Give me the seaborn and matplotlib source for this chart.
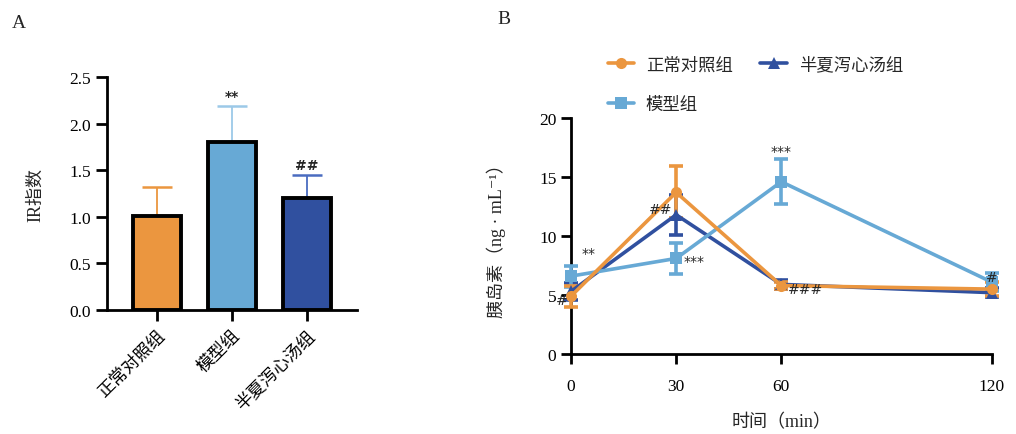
import matplotlib
matplotlib.use("Agg")
import matplotlib.pyplot as plt
import seaborn as sns
import numpy as np

sns.set_theme(style="ticks")
plt.rcParams['font.family'] = ['Liberation Serif', 'Noto Sans CJK SC', 'DejaVu Sans']
plt.rcParams['axes.unicode_minus'] = False

# Panel A data
groups = ['正常对照组', '模型组', '半夏泻心汤组']
ir_mean = [1.01, 1.80, 1.20]
ir_sd = [0.31, 0.39, 0.25]
ir_marks = ['', '**', '##']

# Panel B data
times = [0, 30, 60, 120]
normal_mean = [4.9, 13.7, 5.8, 5.5]
normal_sd = [0.9, 2.2, 0.3, 0.6]
model_mean = [6.6, 8.1, 14.6, 6.1]
model_sd = [0.9, 1.3, 1.9, 0.8]
bxxx_mean = [5.3, 11.8, 5.9, 5.2]
bxxx_sd = [0.7, 1.7, 0.4, 0.4]

c_orange = '#EB963F'
c_light = '#67A9D5'
c_dark = '#30509F'
err_colors = ['#EB963F', '#9CC9E8', '#4A6CC0']

fig = plt.figure(figsize=(10.16, 4.35), dpi=100)

# ---------- Panel A ----------
axA = fig.add_axes([0.1053, 0.285, 0.246, 0.5357])
sns.barplot(x=groups, y=ir_mean, hue=groups, palette=[c_orange, c_light, c_dark],
            saturation=1, edgecolor='black', linewidth=2.8, width=0.64, legend=False,
            ax=axA, zorder=3)
xs = np.arange(len(groups))
for i in range(len(groups)):
    axA.errorbar(xs[i], ir_mean[i], yerr=[[0], [ir_sd[i]]], color=err_colors[i],
                 capsize=11, elinewidth=1.3, capthick=1.8, zorder=2)
    if ir_marks[i]:
        axA.text(xs[i], ir_mean[i] + ir_sd[i] + 0.03, ir_marks[i], ha='center', va='bottom',
                 fontsize=10, fontweight='bold', family='DejaVu Sans')
axA.set_xlim(-0.667, 2.667)
axA.set_ylim(0, 2.5)
axA.set_yticks([0, 0.5, 1.0, 1.5, 2.0, 2.5])
axA.set_yticklabels(['0.0', '0.5', '1.0', '1.5', '2.0', '2.5'])
axA.set_ylabel('IR指数', fontsize=13, labelpad=18)
axA.set_xticks(xs)
axA.set_xticklabels(groups, rotation=45, ha='right', rotation_mode='anchor', fontsize=12.5)
for s in ['top', 'right']:
    axA.spines[s].set_visible(False)
for s in ['left', 'bottom']:
    axA.spines[s].set_linewidth(2.0)
    axA.spines[s].set_color('black')
axA.tick_params(axis='both', width=2.0, length=8, labelsize=12.5, colors='black', direction='out')
axA.tick_params(axis='x', pad=4)
fig.text(0.012, 0.935, 'A', fontsize=14)

# ---------- Panel B ----------
axB = fig.add_axes([0.562, 0.1839, 0.414, 0.5425])
series = [
    ('半夏泻心汤组', bxxx_mean, bxxx_sd, c_dark, '^'),
    ('模型组', model_mean, model_sd, c_light, 's'),
    ('正常对照组', normal_mean, normal_sd, c_orange, 'o'),
]
for name, m, sd, col, mk in series:
    axB.errorbar(times, m, yerr=sd, color=col, capsize=5, elinewidth=2.6, capthick=2.6,
                 fmt='none', clip_on=False, zorder=3)
    sns.lineplot(x=times, y=m, color=col, marker=mk, markersize=8, markeredgewidth=0,
                 linewidth=2.6, ax=axB, clip_on=False, zorder=4, label=name)
axB.set_xlim(0, 120)
axB.set_ylim(0, 20)
axB.set_xticks(times)
axB.set_yticks([0, 5, 10, 15, 20])
axB.set_xlabel('时间（min）', fontsize=13, labelpad=14)
axB.set_ylabel('胰岛素（ng · mL⁻¹）', fontsize=13, labelpad=24,
               family=['Liberation Serif', 'Noto Sans CJK SC', 'DejaVu Sans'])
for s in ['top', 'right']:
    axB.spines[s].set_visible(False)
for s in ['left', 'bottom']:
    axB.spines[s].set_linewidth(2.0)
    axB.spines[s].set_color('black')
axB.tick_params(axis='both', width=2.0, length=7, labelsize=12.5, colors='black', direction='out')
axB.tick_params(axis='x', pad=10)

h, l = axB.get_legend_handles_labels()
order = [l.index('正常对照组'), l.index('模型组'), l.index('半夏泻心汤组')]
axB.legend([h[i] for i in order], [l[i] for i in order], ncol=2, frameon=False,
           loc='lower left', bbox_to_anchor=(0.05, 0.955), fontsize=12.5,
           handlelength=1.5, handletextpad=0.7, columnspacing=1.6, labelspacing=1.35)

ann = [(3, 8.0, '**', 'left'), (-1, 4.0, '#', 'right'), (29, 11.7, '##', 'right'),
       (32, 7.3, '***', 'left'), (60, 16.6, '***', 'center'), (62, 4.9, '###', 'left'),
       (120, 5.9, '#', 'center')]
for x, y, t, ha in ann:
    axB.text(x, y, t, ha=ha, va='bottom', fontsize=10, family='DejaVu Sans', zorder=6, clip_on=False)

fig.text(0.49, 0.945, 'B', fontsize=14)

fig.savefig('out.png', dpi=100)
